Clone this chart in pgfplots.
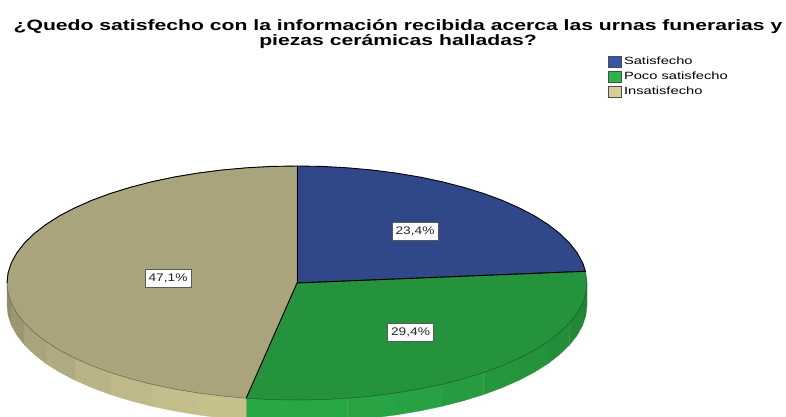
\documentclass[border=0pt]{standalone}
\usepackage{pgfplots}
\pgfplotsset{compat=1.18}
\usepackage{fontspec}
\setmainfont{Liberation Sans}
\definecolor{bl}{HTML}{30488A}
\definecolor{gr}{HTML}{25933C}
\definecolor{ta}{HTML}{AAA47C}
\definecolor{lbl}{HTML}{3A55A8}
\definecolor{lgr}{HTML}{2AB54B}
\definecolor{lta}{HTML}{D5CF96}
\newcommand{\wall}[2]{\addplot[forget plot,fill=#1,draw=#1,line width=0.3pt] coordinates {#2} --cycle;}
\begin{document}
\begin{tikzpicture}
\begin{axis}[
  width=786pt,height=416pt,scale only axis,hide axis,
  xmin=0,xmax=786,ymin=0,ymax=416,y dir=reverse,
  legend style={at={(axis cs:608,55)},anchor=north west,draw=none,fill=none,
    font=\fontsize{10.5}{11}\selectfont,row sep=2pt,inner sep=0pt,outer sep=0pt,
    /tikz/every even column/.append style={column sep=5pt}},
  legend cell align=left,
  legend image code/.code={\draw[#1] (0pt,-5.5pt) rectangle (13pt,5.5pt);},
]
\path (axis cs:0,0) -- (axis cs:786,416);
% legend swatches
\addlegendimage{draw=black!70,line width=1pt,fill=lbl}
\addlegendentry{\scalebox{1.4}[1]{Satisfecho}}
\addlegendimage{draw=black!70,line width=1pt,fill=lgr}
\addlegendentry{\scalebox{1.4}[1]{Poco satisfecho}}
\addlegendimage{draw=black!70,line width=1pt,fill=lta}
\addlegendentry{\scalebox{1.4}[1]{Insatisfecho}}
% side wall, green
\wall{gr!88!black}{(587,283)(585.9,293.2)(582.6,303.3)(582.6,325.3)(585.9,315.2)(587,305)}
\wall{gr!92!black}{(582.6,303.3)(577.1,313.3)(569.5,323)(569.5,345)(577.1,335.3)(582.6,325.3)}
\wall{gr!96!black}{(569.5,323)(559.8,332.4)(548.1,341.5)(548.1,363.5)(559.8,354.4)(569.5,345)}
\wall{gr}{(548.1,341.5)(534.6,350.1)(519.1,358.2)(519.1,380.2)(534.6,372.1)(548.1,363.5)}
\wall{gr!90!lgr}{(519.1,358.2)(502.1,365.7)(483.4,372.6)(483.4,394.6)(502.1,387.7)(519.1,380.2)}
\wall{gr!75!lgr}{(483.4,372.6)(463.3,378.8)(442,384.3)(442,406.3)(463.3,400.8)(483.4,394.6)}
\wall{gr!60!lgr}{(442,384.3)(419.6,389)(396.2,392.9)(396.2,414.9)(419.6,411)(442,406.3)}
\wall{gr!50!lgr}{(396.2,392.9)(372.1,396)(347.4,398.2)(347.4,420.2)(372.1,418)(396.2,414.9)}
\wall{gr!40!lgr}{(347.4,398.2)(322.3,399.6)(297,400)(297,422)(322.3,421.6)(347.4,420.2)}
\wall{gr!40!lgr}{(297,400)(271.7,399.6)(246.2,398.2)(246.2,420.2)(271.7,421.6)(297,422)}
% side wall, tan
\wall{ta!35!lta}{(246.2,398.2)(222,396)(197.8,392.9)(197.8,414.9)(222,418)(246.2,420.2)}
\wall{ta!40!lta}{(197.8,392.9)(174.4,389)(152,384.3)(152,406.3)(174.4,411)(197.8,414.9)}
\wall{ta!50!lta}{(152,384.3)(130.7,378.8)(110.6,372.6)(110.6,394.6)(130.7,400.8)(152,406.3)}
\wall{ta!65!lta}{(110.6,372.6)(91.9,365.7)(74.9,358.2)(74.9,380.2)(91.9,387.7)(110.6,394.6)}
\wall{ta!85!lta}{(74.9,358.2)(59.4,350.1)(45.9,341.5)(45.9,363.5)(59.4,372.1)(74.9,380.2)}
\wall{ta}{(45.9,341.5)(34.2,332.4)(24.5,323)(24.5,345)(34.2,354.4)(45.9,363.5)}
\wall{ta!92!black}{(24.5,323)(16.9,313.3)(11.4,303.3)(11.4,325.3)(16.9,335.3)(24.5,345)}
\wall{ta!85!black}{(11.4,303.3)(8.1,293.2)(7,283)(7,305)(8.1,315.2)(11.4,325.3)}
% top face
\addplot[forget plot,fill=bl,draw=black,line width=0.9pt] coordinates {(297,283)(297,166)(322.3,166.4)(347.4,167.8)(372.1,170)(396.2,173.1)(419.6,177)(442,181.7)(463.3,187.2)(483.4,193.4)(502.1,200.3)(519.1,207.8)(534.6,215.9)(548.1,224.5)(559.8,233.6)(569.5,243)(577.1,252.7)(582.6,262.7)(585.5,271.3)} --cycle;
\addplot[forget plot,fill=gr,draw=gr!60!black,line width=0.5pt] coordinates {(297,283)(585.5,271.3)(587,283)(585.9,293.2)(582.6,303.3)(577.1,313.3)(569.5,323)(559.8,332.4)(548.1,341.5)(534.6,350.1)(519.1,358.2)(502.1,365.7)(483.4,372.6)(463.3,378.8)(442,384.3)(419.6,389)(396.2,392.9)(372.1,396)(347.4,398.2)(322.3,399.6)(297,400)(271.7,399.6)(246.2,398.2)} --cycle;
\addplot[forget plot,fill=ta,draw=ta!60!black,line width=0.5pt] coordinates {(297,283)(246.2,398.2)(222,396)(197.8,392.9)(174.4,389)(152,384.3)(130.7,378.8)(110.6,372.6)(91.9,365.7)(74.9,358.2)(59.4,350.1)(45.9,341.5)(34.2,332.4)(24.5,323)(16.9,313.3)(11.4,303.3)(8.1,293.2)(7,283)(8.1,272.8)(11.4,262.7)(16.9,252.7)(24.5,243)(34.2,233.6)(45.9,224.5)(59.4,215.9)(74.9,207.8)(91.9,200.3)(110.6,193.4)(130.7,187.2)(152,181.7)(174.4,177)(197.8,173.1)(222,170)(246.6,167.8)(271.7,166.4)(297,166)} --cycle;
% black edges
\addplot[forget plot,black,line width=0.9pt] coordinates {(585.5,271.3)(297,283)(246.2,398.2)};
\addplot[forget plot,black,line width=0.9pt] coordinates {(297,166)(297,283)};
\addplot[forget plot,black,line width=0.9pt] coordinates {(7,283)(8.1,272.8)(11.4,262.7)(16.9,252.7)(24.5,243)(34.2,233.6)(45.9,224.5)(59.4,215.9)(74.9,207.8)(91.9,200.3)(110.6,193.4)(130.7,187.2)(152,181.7)(174.4,177)(197.8,173.1)(222,170)(246.6,167.8)(271.7,166.4)(297,166)};
% labels
\tikzset{pl/.style={draw=black!65,line width=1pt,fill=white,inner sep=0pt,minimum width=46pt,minimum height=18pt,text=black!85,font=\fontsize{11}{12}\selectfont}}
\node[pl] at (axis cs:415,231) {\scalebox{1.25}[1]{23,4\%}};
\node[pl] at (axis cs:168,278.5) {\scalebox{1.25}[1]{47,1\%}};
\node[pl] at (axis cs:410.5,332.5) {\scalebox{1.25}[1]{29,4\%}};
% title
\node[font=\bfseries\fontsize{15}{15}\selectfont] at (axis cs:398,27) {\scalebox{1.41}[1]{¿Quedo satisfecho con la información recibida acerca las urnas funerarias y}};
\node[font=\bfseries\fontsize{15}{15}\selectfont] at (axis cs:398,41.5) {\scalebox{1.41}[1]{piezas cerámicas halladas?}};
\end{axis}
\end{tikzpicture}
\end{document}
